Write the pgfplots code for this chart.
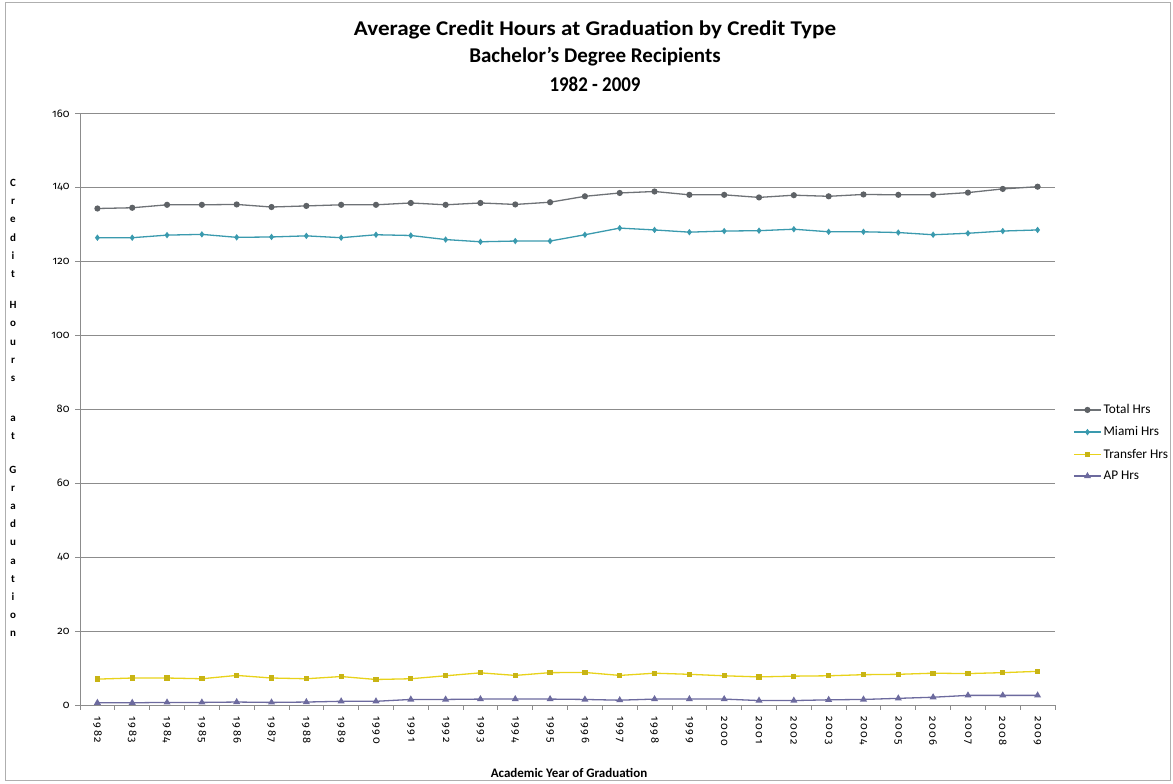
\documentclass[border=0pt]{standalone}
\usepackage{fontspec}
\setmainfont{Carlito}
\newfontfamily\ytickfont{Fira Sans}[Numbers=OldStyle]
\newfontfamily\xtickfont{Fira Sans}[Numbers=OldStyle, LetterSpace=14]
\usepackage{pgfplots}
\pgfplotsset{compat=1.18}
\definecolor{totc}{HTML}{6E7276}
\definecolor{totm}{HTML}{5E6266}
\definecolor{miac}{HTML}{3A9AAE}
\definecolor{trac}{HTML}{E8D21A}
\definecolor{tram}{HTML}{C8B414}
\definecolor{apc}{HTML}{6C6A9E}
\definecolor{gridc}{HTML}{8C8C8C}
\begin{document}
\begin{tikzpicture}[x=1pt,y=1pt]
\begin{axis}[
  at={(0pt,0pt)}, anchor=south west,
  scale only axis, width=975pt, height=591.5pt,
  xmin=1981.5, xmax=2009.5, ymin=0, ymax=160,
  xtick={1982,...,2009},
  minor xtick={1981.5,1982.5,...,2009.5},
  ytick={0,20,...,160},
  major x tick style={draw=none},
  tick align=outside,
  major tick length=5pt, minor tick length=5pt,
  tick style={color=gridc, line width=0.8pt},
  axis x line*=bottom, axis y line*=left,
  axis line style={-, color=gridc, line width=0.8pt},
  ymajorgrids, grid style={color=gridc, line width=0.9pt},
  /pgf/number format/.cd, 1000 sep={}, assume math mode=true, /pgfplots/.cd,
  xticklabel style={rotate=-90, anchor=west, font=\xtickfont\fontsize{11}{13}\selectfont, xshift=3pt},
  yticklabel style={font=\ytickfont\fontsize{11}{13}\selectfont, xshift=-2pt},
  legend style={at={(1.0155,0.515)}, anchor=north west, draw=none, fill=none,
    font=\fontsize{13.3}{15}\selectfont, row sep=7.5pt},
  legend cell align=left,
  legend image code/.code={\draw[mark repeat=2,mark phase=2,#1] plot coordinates {(0pt,0pt) (13.5pt,0pt) (27pt,0pt)};},
]
\addplot[color=totc, line width=1.3pt, mark=*, mark size=2.4pt, mark options={fill=totm, draw=totm}] coordinates {
(1982,134.3)(1983,134.5)(1984,135.3)(1985,135.3)(1986,135.4)(1987,134.7)(1988,135.0)(1989,135.3)(1990,135.3)(1991,135.8)(1992,135.3)(1993,135.8)(1994,135.4)(1995,136.0)
(1996,137.6)(1997,138.5)(1998,138.9)(1999,138.0)(2000,138.0)(2001,137.3)(2002,137.9)(2003,137.6)(2004,138.1)(2005,138.0)(2006,138.0)(2007,138.6)(2008,139.6)(2009,140.2)};
\addlegendentry{Total Hrs}
\addplot[color=miac, line width=1.3pt, mark=diamond*, mark size=2.2pt, mark options={fill=miac, draw=miac}] coordinates {
(1982,126.4)(1983,126.4)(1984,127.1)(1985,127.3)(1986,126.5)(1987,126.6)(1988,126.9)(1989,126.4)(1990,127.2)(1991,127.0)(1992,125.9)(1993,125.3)(1994,125.5)(1995,125.5)
(1996,127.2)(1997,129.0)(1998,128.5)(1999,127.9)(2000,128.2)(2001,128.3)(2002,128.7)(2003,128.0)(2004,128.0)(2005,127.8)(2006,127.2)(2007,127.6)(2008,128.2)(2009,128.5)};
\addlegendentry{Miami Hrs}
\addplot[color=trac, line width=1.3pt, mark=square*, mark size=2pt, mark options={fill=tram, draw=tram}] coordinates {
(1982,7.0)(1983,7.3)(1984,7.3)(1985,7.1)(1986,8.0)(1987,7.3)(1988,7.1)(1989,7.7)(1990,6.9)(1991,7.1)(1992,7.9)(1993,8.7)(1994,8.0)(1995,8.75)
(1996,8.8)(1997,8.0)(1998,8.6)(1999,8.3)(2000,7.9)(2001,7.6)(2002,7.8)(2003,7.9)(2004,8.2)(2005,8.3)(2006,8.6)(2007,8.5)(2008,8.75)(2009,9.1)};
\addlegendentry{Transfer Hrs}
\addplot[color=apc, line width=1.3pt, mark=triangle*, mark size=2.8pt, mark options={fill=apc, draw=apc}] coordinates {
(1982,0.6)(1983,0.6)(1984,0.7)(1985,0.7)(1986,0.8)(1987,0.7)(1988,0.8)(1989,1.0)(1990,1.0)(1991,1.5)(1992,1.5)(1993,1.6)(1994,1.6)(1995,1.6)
(1996,1.5)(1997,1.3)(1998,1.6)(1999,1.6)(2000,1.6)(2001,1.2)(2002,1.2)(2003,1.4)(2004,1.5)(2005,1.8)(2006,2.1)(2007,2.6)(2008,2.6)(2009,2.6)};
\addlegendentry{AP Hrs}
\end{axis}
\node[font=\fontsize{21}{23}\selectfont\bfseries] at (515,675) {\scalebox{1.1}[1]{Average Credit Hours at Graduation by Credit Type}};
\node[font=\fontsize{21}{23}\selectfont\bfseries] at (515,648) {\scalebox{1.0}[1]{Bachelor's Degree Recipients}};
\node[font=\fontsize{21}{23}\selectfont\bfseries] at (515,621) {\scalebox{0.9}[1]{1982 - 2009}};
\node[font=\fontsize{13}{15}\selectfont\bfseries] at (489,-68) {Academic Year of Graduation};
\node[font=\fontsize{11}{18.2}\selectfont\bfseries, align=center, anchor=north, inner sep=0pt] at (-67,526)
 {C\\r\\e\\d\\i\\t\\[13pt]H\\o\\u\\r\\s\\[22pt]a\\t\\[15pt]G\\r\\a\\d\\u\\a\\t\\i\\o\\n};
\pgfresetboundingbox
\path[use as bounding box] (-80,-79) rectangle (1093,705);
\draw[color=gridc!70, line width=1pt] (-74,-76) rectangle (1090,702);
\end{tikzpicture}
\end{document}
